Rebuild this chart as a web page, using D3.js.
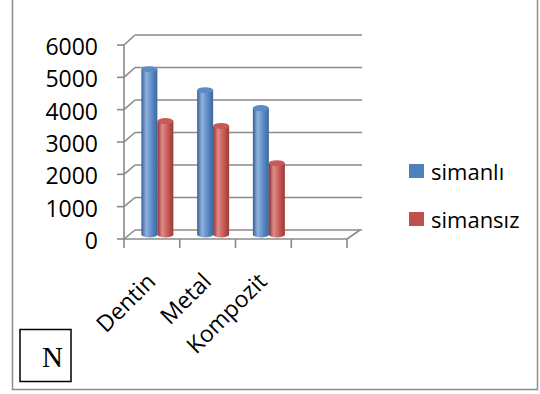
<!DOCTYPE html>
<html>
<head>
<meta charset="UTF-8">
<script src="https://d3js.org/d3.v7.min.js"></script>
<style>
  body { margin: 0; background: #fff; }
  svg { display: block; }
  .lbl { font-family: "Open Sans", sans-serif; fill: #000; }
  .serif { font-family: "Liberation Serif", "DejaVu Serif", serif; fill: #000; }
</style>
</head>
<body>
<svg width="540" height="394"></svg>
<script>
const categories = ["Dentin", "Metal", "Kompozit"];
const seriesNames = ["simanlı", "simansız"];
const simanli = [5100, 4450, 3900];
const simansiz = [3500, 3350, 2200];
const yTicks = [0, 1000, 2000, 3000, 4000, 5000, 6000];
const colors = ["#4F81BD", "#C0504D"];

const svg = d3.select("svg");

// outer frame
svg.append("rect")
  .attr("x", 12.5).attr("y", -5)
  .attr("width", 525).attr("height", 394.5)
  .attr("fill", "none").attr("stroke", "#8c8c8c").attr("stroke-width", 1.5);

// 3d depth offset
const dx = 11;
const x0 = 124, x1 = 347;

const slots = categories.concat([""]);
const x = d3.scaleBand().domain(slots).range([x0, x1]);
const yFront = d3.scaleLinear().domain([0, 6000]).range([239, 45]);
const yBack = d3.scaleLinear().domain([0, 6000]).range([230, 35]);
const yBar = d3.scaleLinear().domain([0, 6000]).range([234.5, 40]);

const grid = svg.append("g").attr("stroke", "#8a8a8a").attr("stroke-width", 1.6).attr("fill", "none");

// back wall gridlines + side wall diagonals
yTicks.forEach(t => {
  grid.append("line")
    .attr("x1", x0 + dx).attr("x2", 362)
    .attr("y1", yBack(t)).attr("y2", yBack(t));
  grid.append("line")
    .attr("x1", x0).attr("x2", x0 + dx)
    .attr("y1", yFront(t)).attr("y2", yBack(t));
});

// floor
grid.append("line").attr("x1", x0).attr("x2", x1).attr("y1", yFront(0)).attr("y2", yFront(0));
grid.append("line").attr("x1", x1).attr("x2", x1 + 13).attr("y1", yFront(0)).attr("y2", yBack(0));

// front vertical axis with ticks
grid.append("line").attr("x1", x0).attr("x2", x0).attr("y1", yFront(6000)).attr("y2", yFront(0));
yTicks.forEach(t => {
  grid.append("line").attr("x1", x0 - 7).attr("x2", x0).attr("y1", yFront(t)).attr("y2", yFront(t));
});

// category ticks
slots.forEach(s => {
  grid.append("line").attr("x1", x(s)).attr("x2", x(s)).attr("y1", yFront(0)).attr("y2", yFront(0) + 9);
});
grid.append("line").attr("x1", x1).attr("x2", x1).attr("y1", yFront(0)).attr("y2", yFront(0) + 9);

// y labels
svg.append("g").selectAll("text")
  .data(yTicks)
  .enter().append("text")
  .attr("class", "lbl")
  .attr("x", 98)
  .attr("y", d => yFront(d) + 1)
  .attr("text-anchor", "end")
  .attr("dominant-baseline", "central")
  .attr("font-size", 23)
  .text(d => d);

// cylinder gradients
const defs = svg.append("defs");
const shades = [
  ["#355f94", "#8fb2de", "#5d8bc6", "#3b679e"],
  ["#92302e", "#e08c89", "#c65b58", "#9c3936"]
];
shades.forEach((s, i) => {
  const g = defs.append("linearGradient").attr("id", "cyl" + i)
    .attr("x1", 0).attr("x2", 1).attr("y1", 0).attr("y2", 0);
  g.append("stop").attr("offset", "0%").attr("stop-color", s[0]);
  g.append("stop").attr("offset", "30%").attr("stop-color", s[1]);
  g.append("stop").attr("offset", "65%").attr("stop-color", s[2]);
  g.append("stop").attr("offset", "100%").attr("stop-color", s[3]);
});

const series = [simanli, simansiz];
const barW = 16, ry = 3;
const bars = svg.append("g");
categories.forEach((c, ci) => {
  const cx = x(c) + x.bandwidth() / 2 + dx / 2;
  series.forEach((vals, si) => {
    const left = cx - barW + si * barW;
    const yt = yBar(vals[ci]), yb = yBar(0);
    const g = bars.append("g");
    g.append("path")
      .attr("d", `M${left},${yt} L${left},${yb} A${barW / 2},${ry} 0 0 0 ${left + barW},${yb} L${left + barW},${yt} Z`)
      .attr("fill", `url(#cyl${si})`);
    g.append("ellipse")
      .attr("cx", left + barW / 2).attr("cy", yt)
      .attr("rx", barW / 2).attr("ry", ry)
      .attr("fill", shades[si][2]);
  });
});

// category labels
svg.append("g").selectAll("text")
  .data(categories)
  .enter().append("text")
  .attr("class", "lbl")
  .attr("transform", d => `translate(${x(d) + x.bandwidth() / 2 + 5},283) rotate(-45)`)
  .attr("text-anchor", "end")
  .attr("font-size", 23)
  .text(d => d);

// legend
const legend = svg.append("g").selectAll("g")
  .data(seriesNames)
  .enter().append("g")
  .attr("transform", (d, i) => `translate(409,${164 + i * 48})`);
legend.append("rect").attr("width", 15).attr("height", 14).attr("fill", (d, i) => colors[i]);
legend.append("text")
  .attr("class", "lbl")
  .attr("x", 22).attr("y", 7)
  .attr("dominant-baseline", "central")
  .attr("font-size", 22)
  .text(d => d);

// N box
svg.append("rect")
  .attr("x", 20).attr("y", 329.5).attr("width", 51).attr("height", 52)
  .attr("fill", "none").attr("stroke", "#000").attr("stroke-width", 1.5);
svg.append("text")
  .attr("class", "serif")
  .attr("x", 52.5).attr("y", 367)
  .attr("text-anchor", "middle")
  .attr("font-size", 29)
  .text("N");
</script>
</body>
</html>
